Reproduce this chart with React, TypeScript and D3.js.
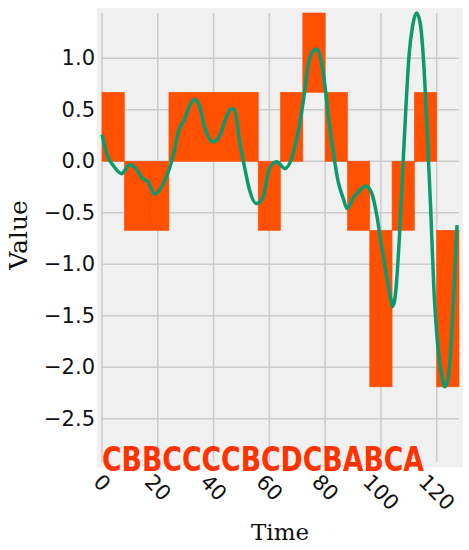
import React from 'react';
import * as d3 from 'd3';

// SAX word, one letter per 8-step segment
const letters = ['C', 'B', 'B', 'C', 'C', 'C', 'C', 'B', 'C', 'D', 'C', 'B', 'A', 'B', 'C', 'A'];
const breakpoints = [-0.67, 0, 0.67];
const segmentLength = 8;

// series
const times = [
  0, 2, 4, 7, 10, 11.7, 14.7, 16.5, 18.9, 21.9, 24.2, 26, 27.2, 29.6, 31.4, 33.2, 35, 36.8,
  39.8, 42.2, 44.6, 46.3, 47.5, 49.3, 51.1, 52.9, 55.3, 57.7, 60, 62.6, 65.6, 68, 69.8, 71.6,
  72.8, 73.9, 75.2, 77, 78.7, 79.9, 81.1, 82.9, 84.7, 86.5, 87.9, 90, 92.5, 94.6, 96.7, 98.5,
  100.2, 102, 103.5, 104.2, 105.4, 106.6, 107.8, 109, 110.1, 111.4, 112.8, 114.2, 115.4, 116.6,
  117.8, 119, 120.5, 121.8, 122.9, 124.1, 125.3, 126.5, 127.3,
];
const values = [
  0.26, 0.05, -0.04, -0.12, -0.03, -0.055, -0.17, -0.2, -0.32, -0.22, -0.07, 0.11, 0.27, 0.41,
  0.54, 0.6, 0.53, 0.33, 0.19, 0.25, 0.43, 0.51, 0.5, 0.2, -0.055, -0.28, -0.41, -0.35, -0.07,
  -0.005, -0.07, 0.03, 0.22, 0.48, 0.71, 0.93, 1.05, 1.09, 0.96, 0.74, 0.45, 0.09, -0.2, -0.36,
  -0.46, -0.36, -0.28, -0.24, -0.31, -0.52, -0.82, -1.11, -1.33, -1.41, -1.24, -0.75, -0.1, 0.54,
  1.03, 1.32, 1.44, 1.32, 0.93, 0.28, -0.43, -1.24, -1.82, -2.08, -2.19, -2.11, -1.72, -1.07, -0.62,
];

const yTicks = [1.0, 0.5, 0.0, -0.5, -1.0, -1.5, -2.0, -2.5];
const xTicks = [0, 20, 40, 60, 80, 100, 120];

const W = 469;
const H = 550;

export default function App() {
  const vMin = d3.min(values) as number;
  const vMax = d3.max(values) as number;

  const x = d3.scaleLinear().domain([0, letters.length * segmentLength]).range([102, 459]);
  const y = d3.scaleLinear().domain([-2.92, vMax]).range([462, 13]);

  const line = d3.line<number>()
    .x((_, i) => x(times[i]))
    .y(d => y(d))
    .curve(d3.curveMonotoneX);

  const bars = letters.map((l, i) => {
    const k = l.charCodeAt(0) - 65;
    const lo = k === 0 ? vMin : breakpoints[k - 1];
    const hi = k === breakpoints.length ? vMax : breakpoints[k];
    return { x0: i * segmentLength, x1: (i + 1) * segmentLength, lo, hi };
  });

  const fmt = (v: number) => d3.format('.1f')(v).replace('-', '\u2212');
  const tickFont = 21;

  return (
    <svg width={W} height={H} style={{ position: 'absolute', left: 0, top: 0, background: '#fff' }}>
      <rect x={97} y={8} width={366} height={459} fill="#f0f0f0" />

      <g stroke="#cbcbcb" strokeWidth={1.5}>
        {yTicks.map(t => (
          <line key={'gy' + t} x1={x.range()[0]} x2={x.range()[1]} y1={y(t)} y2={y(t)} />
        ))}
        {xTicks.map(t => (
          <line key={'gx' + t} x1={x(t)} x2={x(t)} y1={y.range()[1]} y2={y.range()[0]} />
        ))}
      </g>

      {bars.map((b, i) => (
        <rect key={i} x={x(b.x0)} width={x(b.x1) - x(b.x0)} y={y(b.hi)} height={y(b.lo) - y(b.hi)}
          fill="#ff5000" stroke="#ff5000" strokeWidth={0.6} />
      ))}

      <path d={line(values) || ''} fill="none" stroke="#0b9a6f" strokeWidth={3.5} strokeLinejoin="round" />

      <text x={x(0)} y={471} fill="#ff3300" fontFamily="'Liberation Sans Narrow', 'DejaVu Sans Condensed', sans-serif"
        fontWeight="bold" fontSize={33} textLength={322} lengthAdjust="spacingAndGlyphs">
        {letters.join('')}
      </text>

      <g fontFamily="'DejaVu Sans', sans-serif" fontSize={tickFont} fill="#111">
        {yTicks.map(t => (
          <text key={'ty' + t} x={95} y={y(t)} textAnchor="end" dominantBaseline="central">{fmt(t)}</text>
        ))}
        {xTicks.map(t => {
          const w = String(t).length * 0.636 * tickFont;
          const h = (w + 0.73 * tickFont) * Math.SQRT1_2;
          return (
            <text key={'tx' + t} transform={`translate(${x(t)},${473 + h / 2}) rotate(45)`}
              textAnchor="middle" dominantBaseline="central">{t}</text>
          );
        })}
      </g>

      <g fontFamily="'DejaVu Serif', serif" fill="#111">
        <text x={280} y={540} textAnchor="middle" fontSize={23}>Time</text>
        <text transform={`translate(${27},${235}) rotate(-90)`} textAnchor="middle" fontSize={25}>Value</text>
      </g>
    </svg>
  );
}
